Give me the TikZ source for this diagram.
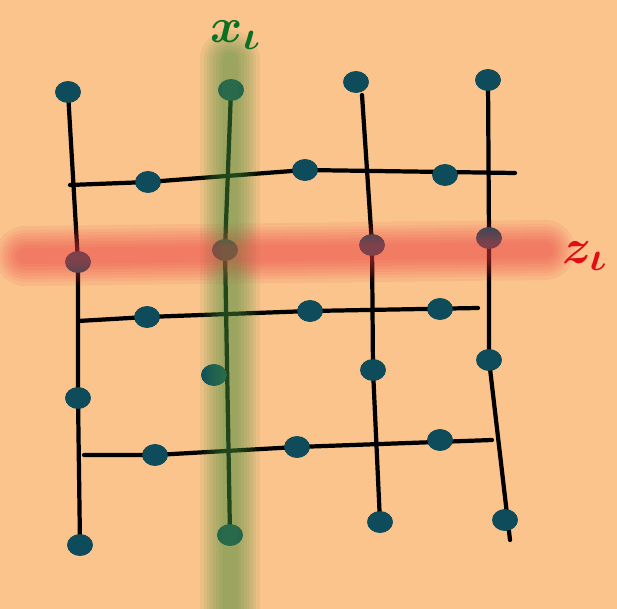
\documentclass[tikz,border=0pt]{standalone}
\usepackage{amsmath,amssymb}
\usepackage{graphicx}
\usepackage{tikz}
\usetikzlibrary{shapes.geometric}
\definecolor{paper}{RGB}{250,196,140}
\definecolor{dotteal}{RGB}{14,76,92}
\definecolor{bandgreen}{RGB}{70,140,60}
\definecolor{bandred}{RGB}{238,60,65}
\definecolor{labgreen}{RGB}{12,112,35}
\definecolor{labred}{RGB}{226,12,22}
\tikzset{
  dot/.style   = {ellipse, fill=dotteal, inner sep=0pt, minimum width=0.64cm,
                  minimum height=0.54cm},
  wire/.style  = {line width=3pt, black, line cap=round, line join=round},
  glow/.style  = {line width=#1, opacity=0.085, line cap=round},
  label/.style = {font=\Huge\bfseries, inner sep=0pt},
}
\newcommand{\bigsym}[1]{\scalebox{1.4}{$\boldsymbol{#1}$}}

\begin{document}
\begin{tikzpicture}[x=0.025cm, y=-0.025cm]
  \useasboundingbox (0,0) rectangle (617,609);
  \fill[paper] (0,0) rectangle (617,609);

  % dots, column by column
  \node[dot] (v1a) at (68,92)   {};
  \node[dot] (v1b) at (78,262)  {};
  \node[dot] (v1c) at (78,398)  {};
  \node[dot] (v1d) at (80,545)  {};
  \node[dot] (v2a) at (231,90)  {};
  \node[dot] (v2b) at (225,250) {};
  \node[dot] (v2c) at (214,375) {};
  \node[dot] (v2d) at (230,535) {};
  \node[dot] (v3a) at (356,82)  {};
  \node[dot] (v3b) at (372,245) {};
  \node[dot] (v3c) at (373,370) {};
  \node[dot] (v3d) at (380,522) {};
  \node[dot] (v4a) at (488,80)  {};
  \node[dot] (v4b) at (489,238) {};
  \node[dot] (v4c) at (489,360) {};
  \node[dot] (v4d) at (505,520) {};
  \node[dot] (h1a) at (148,182) {};
  \node[dot] (h1b) at (305,170) {};
  \node[dot] (h1c) at (445,175) {};
  \node[dot] (h2a) at (147,317) {};
  \node[dot] (h2b) at (310,311) {};
  \node[dot] (h2c) at (440,309) {};
  \node[dot] (h3a) at (155,455) {};
  \node[dot] (h3b) at (297,447) {};
  \node[dot] (h3c) at (440,440) {};

  % free ends of the rails
  \coordinate (v3s) at (362,95);  \coordinate (v4e) at (510,540);
  \coordinate (h1s) at (70,185);  \coordinate (h1e) at (515,173);
  \coordinate (h2s) at (78,321);  \coordinate (h2e) at (478,308);
  \coordinate (h3s) at (84,455);  \coordinate (h3e) at (492,440);

  \draw[wire] (v1a.center) -- (v1b.center) -- (v1c.center) -- (v1d.center);
  \draw[wire] (v2a.center) -- (v2b.center) -- (v2d.center);
  \draw[wire] (v3s) -- (v3b.center) -- (v3c.center) -- (v3d.center);
  \draw[wire] (v4a.center) -- (v4b.center) -- (v4c.center) -- (v4e);
  \draw[wire] (h1s) -- (h1a.center) -- (h1b.center) -- (h1e);
  \draw[wire] (h2s) -- (h2a.center) -- (h2b.center) -- (h2e);
  \draw[wire] (h3s) -- (h3a.center) -- (h3b.center) -- (h3e);
  % redraw dots over the wires
  \foreach \n in {v1a,v1b,v1c,v1d,v2a,v2b,v2c,v2d,v3a,v3b,v3c,v3d,
                  v4a,v4b,v4c,v4d,h1a,h1b,h1c,h2a,h2b,h2c,h3a,h3b,h3c}
    \fill[dotteal] (\n.center) ellipse (0.32cm and 0.27cm);

  % soft bands
  \coordinate (gtop) at (230,60);  \coordinate (gbot) at (230,640);
  \coordinate (rlft) at (25,256);  \coordinate (rrgt) at (545,250);
  \foreach \w in {1.5cm,1.3cm,1.15cm,1.0cm,0.85cm,0.7cm,0.55cm,0.4cm} {
    \draw[glow=\w, bandgreen] (gtop) -- (gbot);
    \draw[glow=\w, bandred] (rlft) -- (rrgt);
  }

  \node[label, labgreen] (xlab) at (236,35) {\bigsym{x_{\iota}}};
  \node[label, labred]   (zlab) at (585,256) {\bigsym{z_{\iota}}};
\end{tikzpicture}
\end{document}
